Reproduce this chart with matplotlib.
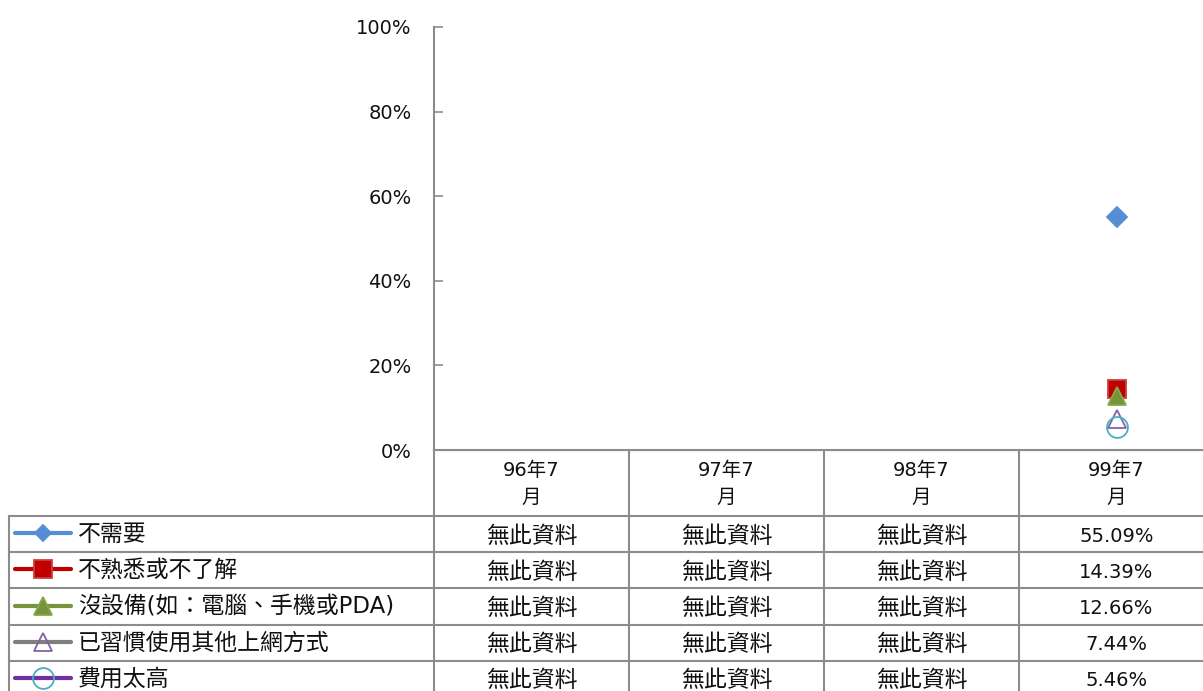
import matplotlib
matplotlib.use("Agg")
import matplotlib.pyplot as plt
import numpy as np
from matplotlib.ticker import MultipleLocator, PercentFormatter
from matplotlib.lines import Line2D

# ======================= DATA =======================
CATEGORIES = ["96年7月", "97年7月", "98年7月", "99年7月"]
SERIES = ["不需要", "不熟悉或不了解", "沒設備(如：電腦、手機或PDA)", "已習慣使用其他上網方式", "費用太高"]
V_NEED = [np.nan, np.nan, np.nan, 55.09]
V_UNFAMILIAR = [np.nan, np.nan, np.nan, 14.39]
V_NO_DEVICE = [np.nan, np.nan, np.nan, 12.66]
V_OTHER_WAY = [np.nan, np.nan, np.nan, 7.44]
V_COST = [np.nan, np.nan, np.nan, 5.46]
NO_DATA = "無此資料"

# ======================= STYLE =======================
W, H = 1203, 691
FONTS = ["DejaVu Sans", "Noto Sans CJK TC"]
plt.rcParams["font.family"] = FONTS
GRID_COLOR = "#8C8C8C"
TEXT_COLOR = "#111111"
TICK_SIZE = 14
CJK_SIZE = 16.5

# (line color, marker, marker size, face, edge)
STYLES = [
    ("#558ED5", "D", 9.8, "#558ED5", "#558ED5"),
    ("#C00000", "s", 12.5, "#C00000", "#C84040"),
    ("#77933C", "^", 12.5, "#77933C", "#88A848"),
    ("#7F7F7F", "^", 12.5, "none", "#8064A2"),
    ("#7030A0", "o", 15, "none", "#4BACC6"),
]

PLOT_LEFT, PLOT_TOP, PLOT_BOTTOM, PLOT_RIGHT = 434, 27, 450, 1214
HEADER_BOTTOM = 516
ROW_H = 36.2

fig = plt.figure(figsize=(W / 100, H / 100), dpi=100)
ax = fig.add_axes([PLOT_LEFT / W, 1 - PLOT_BOTTOM / H,
                   (PLOT_RIGHT - PLOT_LEFT) / W, (PLOT_BOTTOM - PLOT_TOP) / H])

values = [V_NEED, V_UNFAMILIAR, V_NO_DEVICE, V_OTHER_WAY, V_COST]
x = np.arange(len(CATEGORIES))
for vals, (lc, mk, ms, fc, ec) in zip(values, STYLES):
    ax.plot(x, np.array(vals) / 100, color=lc, lw=3, marker=mk, markersize=ms,
            markerfacecolor=fc, markeredgecolor=ec, markeredgewidth=1.3)

ax.set_xlim(-0.5, len(CATEGORIES) - 0.5)
ax.set_ylim(0, 1)
ax.yaxis.set_major_locator(MultipleLocator(0.2))
ax.yaxis.set_major_formatter(PercentFormatter(1, decimals=0))
ax.tick_params(axis="y", direction="in", length=6.5, width=1.2, color=GRID_COLOR,
               pad=16, labelsize=TICK_SIZE, labelcolor=TEXT_COLOR)
ax.set_xticks([])
for s in ["top", "right"]:
    ax.spines[s].set_visible(False)
for s in ["left", "bottom"]:
    ax.spines[s].set_color(GRID_COLOR)
    ax.spines[s].set_linewidth(1.5)

# ======================= DATA TABLE =======================
tab = fig.add_axes([0, 0, 1, 1], zorder=-1)
tab.set_xlim(0, W)
tab.set_ylim(H, 0)
tab.axis("off")

fig.canvas.draw()
col_edges = [ax.transData.transform((i - 0.5, 0))[0] for i in range(len(CATEGORIES) + 1)]
col_mid = [ax.transData.transform((i, 0))[0] for i in range(len(CATEGORIES))]
row_lines = [HEADER_BOTTOM + k * ROW_H for k in range(len(SERIES))]
table_left = 9

for y in row_lines:
    tab.plot([table_left, W], [y, y], color=GRID_COLOR, lw=1.5)
tab.plot([PLOT_LEFT, W], [PLOT_BOTTOM, PLOT_BOTTOM], color=GRID_COLOR, lw=1.5)
tab.plot([table_left, table_left], [HEADER_BOTTOM, H], color=GRID_COLOR, lw=1.5)
tab.plot([col_edges[0], col_edges[0]], [PLOT_BOTTOM, H], color=GRID_COLOR, lw=1.5)
for xe in col_edges[1:-1]:
    tab.plot([xe, xe], [PLOT_BOTTOM, H], color=GRID_COLOR, lw=1.5)

# header
for xm, cat in zip(col_mid, CATEGORIES):
    tab.text(xm, 470, cat[:-1], ha="center", va="center", fontsize=TICK_SIZE, color=TEXT_COLOR)
    tab.text(xm, 497, cat[-1], ha="center", va="center", fontsize=TICK_SIZE, color=TEXT_COLOR)

# rows
for r, (name, vals, (lc, mk, ms, fc, ec)) in enumerate(zip(SERIES, values, STYLES)):
    yc = HEADER_BOTTOM + (r + 0.5) * ROW_H
    tab.add_line(Line2D([15, 71], [yc - 1, yc - 1], color=lc, lw=3, solid_capstyle="round"))
    tab.add_line(Line2D([43], [yc - 1], marker=mk, markersize=ms * 0.8 if mk == "D" else ms,
                        markerfacecolor=fc, markeredgecolor=ec, markeredgewidth=1.3,
                        linestyle="none"))
    tab.text(78, yc, name, ha="left", va="center", fontsize=CJK_SIZE, color=TEXT_COLOR)
    for xm, v in zip(col_mid, vals):
        if np.isnan(v):
            tab.text(xm, yc + 2, NO_DATA, ha="center", va="center", fontsize=CJK_SIZE,
                     color=TEXT_COLOR)
        else:
            tab.text(xm, yc + 2, f"{v:.2f}%", ha="center", va="center", fontsize=TICK_SIZE,
                     color=TEXT_COLOR)

fig.savefig("out.png", dpi=100)
